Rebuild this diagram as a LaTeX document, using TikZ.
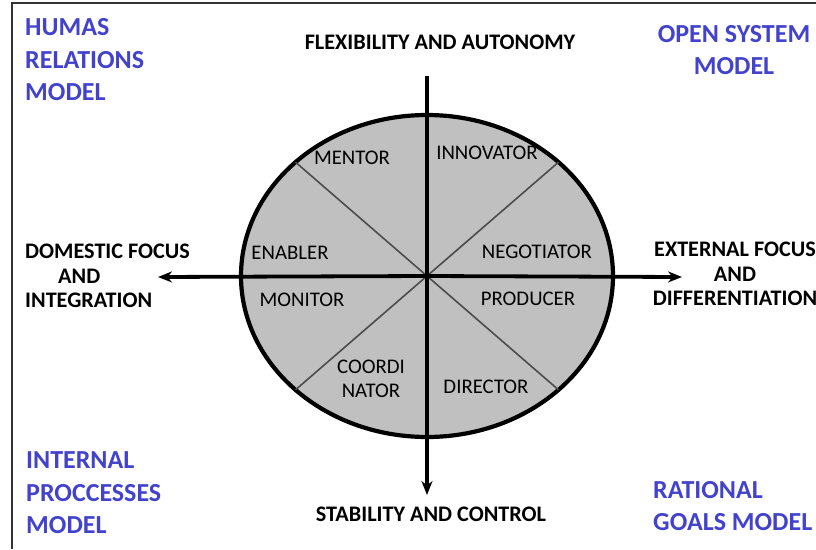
\documentclass[tikz,border=0pt]{standalone}
\usepackage{fontspec}
\setmainfont{Carlito}
\usetikzlibrary{arrows.meta}
\definecolor{fondgris}{RGB}{192,192,192}
\definecolor{bleumod}{RGB}{66,66,204}

\begin{document}
\begin{tikzpicture}[x=1pt,y=-1pt]
\tikzset{axe/.style={line width=3.8pt, black},
  fleche/.style={-{Stealth[length=14pt,width=11pt]}},
  rayon/.style={line width=1.6pt, black!70},
  role/.style={inner sep=0pt, font=\fontsize{20.8}{24}\selectfont},
  pole/.style={inner sep=0pt, font=\bfseries\fontsize{22.2}{24.5}\selectfont},
  modele/.style={inner sep=0pt, text=bleumod, font=\bfseries\fontsize{26}{32.5}\selectfont}}
\useasboundingbox (0,0) rectangle (816,549);
\draw[line width=2pt, black!80] (12,549) -- (12,3) -- (816,3);
\coordinate (O) at (427,276);
\coordinate (N) at (427,76);
\coordinate (S) at (427,495);
\coordinate (W) at (158,277);
\coordinate (E) at (682,277);
\filldraw[fill=fondgris, line width=4.2pt] (O) ellipse [x radius=186, y radius=161];
\foreach \a in {45,135,225,315}
  \draw[rayon] (O) -- ++(\a:186 and 161);
\draw[axe, fleche] (N) -- (S);
\draw[axe, fleche] (O) -- (W);
\draw[axe, fleche] (O) -- (E);
\node[role] (mentor) at (352,158) {MENTOR};
\node[role] (innov) at (487,153) {INNOVATOR};
\node[role] (enabler) at (290,253) {ENABLER};
\node[role] (nego) at (537,252) {NEGOTIATOR};
\node[role] (monitor) at (302,300) {MONITOR};
\node[role] (prod) at (528,299) {PRODUCER};
\node[role, align=center] (coord) at (371,379) {COORDI\\NATOR};
\node[role] (dir) at (486,387) {DIRECTOR};
\node[pole] (flex) at (440,42) {FLEXIBILITY AND AUTONOMY};
\node[pole] (stab) at (431,514) {STABILITY AND CONTROL};
\node[pole, align=left, anchor=west] (dom) at (25,276) {DOMESTIC FOCUS\\\hspace*{33pt}AND\\INTEGRATION};
\node[pole, align=center] (ext) at (735,274) {EXTERNAL FOCUS\\AND\\DIFFERENTIATION};
\node[modele, align=left, anchor=west] (humas) at (25,60) {HUMAS\\RELATIONS\\MODEL};
\node[modele, align=center] (open) at (734,50) {OPEN SYSTEM\\MODEL};
\node[modele, align=left, anchor=west] (intern) at (26,493) {INTERNAL\\PROCCESSES\\MODEL};
\node[modele, align=left, anchor=west] (ration) at (653,506) {RATIONAL\\GOALS MODEL};
\end{tikzpicture}
\end{document}
